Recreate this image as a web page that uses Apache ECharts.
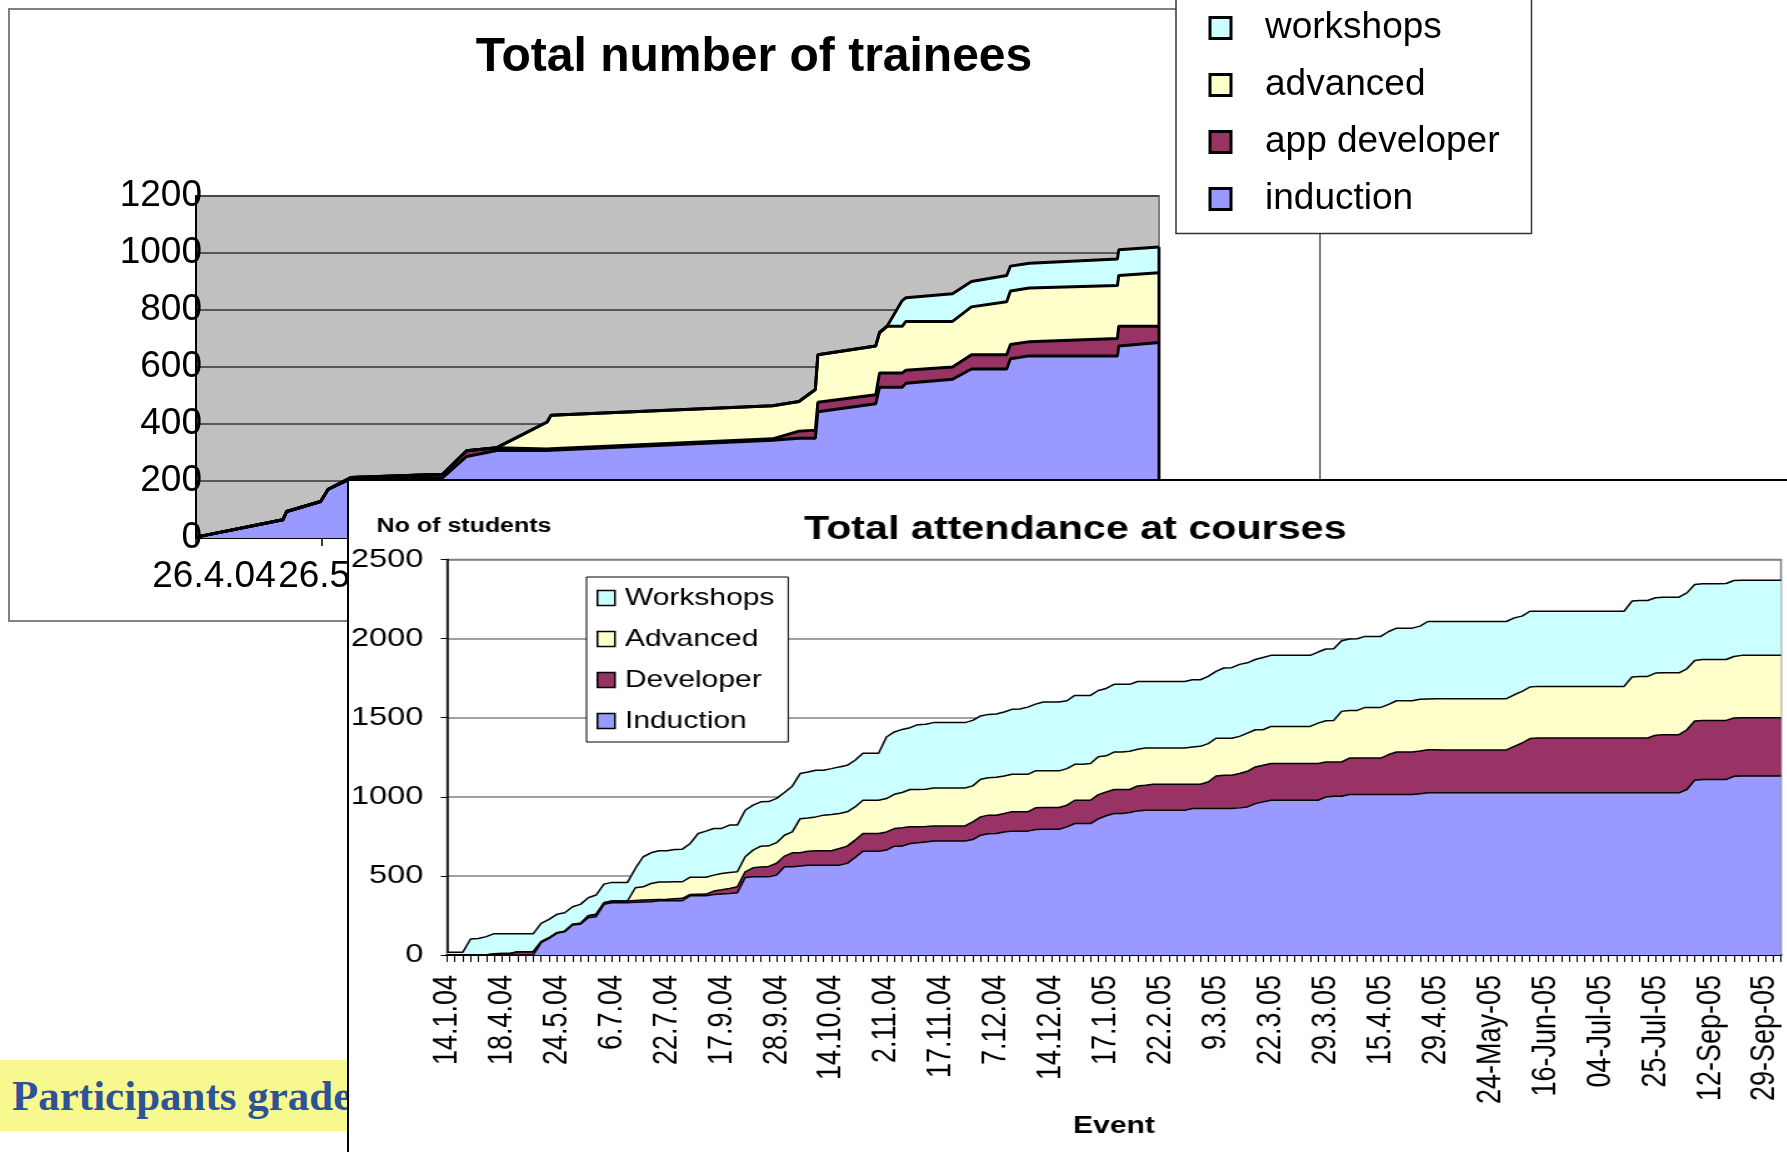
<!DOCTYPE html>
<html>
<head>
<meta charset="utf-8">
<script src="https://cdn.jsdelivr.net/npm/echarts@6/dist/echarts.min.js"></script>
<style>
html,body{margin:0;padding:0;width:1787px;height:1152px;overflow:hidden;background:#fff;}
#topFrame{position:absolute;left:8px;top:8px;width:1313px;height:614px;box-sizing:border-box;border:2px solid #808080;background:#fff;}
#topChart{position:absolute;left:0;top:0;width:1787px;height:640px;}
#banner{position:absolute;left:0;top:1060px;width:380px;height:71px;background:#F8F890;font:bold 43px "Liberation Serif","Times New Roman",serif;color:#2E5395;line-height:71px;padding-left:12px;box-sizing:border-box;white-space:nowrap;overflow:hidden;}
#bottomFrame{position:absolute;left:347px;top:479px;width:1440px;height:673px;box-sizing:border-box;border-left:2px solid #000;border-top:2px solid #000;background:#fff;}
#bottomChart{position:absolute;left:349px;top:481px;width:1150px;height:671px;transform:scaleX(1.25);transform-origin:0 0;}
</style>
</head>
<body>
<div id="topFrame"></div>
<div id="topChart"></div>
<div id="banner">Participants grade</div>
<div id="bottomFrame"></div>
<div id="bottomChart"></div>
<script>
// ---------- Top chart: Total number of trainees ----------
const traineeTickLabels = ['26.4.04','26.5.04','26.6.04','26.7.04','26.8.04','26.9.04','26.10.04','26.11.04'];
// x position in months after 26.4.04
const traineeX = [0, 0.69, 0.72, 0.99, 1.05, 1.23, 1.96, 2.15, 2.39, 2.79, 2.82, 4.58, 4.79, 4.92, 4.94, 5.40, 5.43, 5.49, 5.61, 5.64, 6.01, 6.16, 6.44, 6.47, 6.62, 7.32, 7.33, 7.65];
const traineeInduction = [3, 64, 93, 128, 171, 207, 212, 286, 307, 307, 308, 343, 350, 350, 443, 471, 529, 529, 529, 543, 557, 593, 593, 629, 639, 639, 674, 686];
const traineeAppDev = [0, 0, 0, 0, 0, 5, 12, 20, 10, 5, 5, 5, 25, 28, 33, 32, 50, 50, 50, 46, 43, 50, 50, 50, 50, 61, 69, 57];
const traineeAdvanced = [0, 0, 0, 0, 0, 0, 0, 0, 0, 95, 118, 116, 104, 143, 167, 171, 142, 164, 164, 171, 160, 168, 186, 188, 188, 186, 178, 188];
const traineeWorkshops = [0, 0, 0, 0, 0, 0, 0, 0, 0, 0, 0, 0, 0, 0, 0, 0, 0, 0, 90, 83, 97, 89, 92, 87, 87, 93, 90, 90];

// ---------- Bottom chart: Total attendance at courses ----------
const courseTickLabels = ['14.1.04','18.4.04','24.5.04','6.7.04','22.7.04','17.9.04','28.9.04','14.10.04','2.11.04','17.11.04','7.12.04','14.12.04','17.1.05','22.2.05','9.3.05','22.3.05','29.3.05','15.4.05','29.4.05','24-May-05','16-Jun-05','04-Jul-05','25-Jul-05','12-Sep-05','29-Sep-05'];
const eventsPerTickLabel = 7;
const inductionStudents = [0,0,0,0,0,0,0,0,0,0,
 0,0,78,105,137,147,189,194,236,242,
 320,330,330,330,333,335,337,343,343,343,
 343,375,375,375,383,386,389,393,490,494,
 494,494,505,558,558,562,568,568,568,568,
 568,579,616,656,656,656,663,688,688,705,
 709,715,720,720,720,720,720,730,757,766,
 768,778,783,783,783,793,795,795,795,810,
 831,831,831,860,880,894,894,901,911,915,
 915,915,915,915,915,926,926,926,926,926,
 926,930,936,957,968,978,978,978,978,978,
 978,978,999,1004,1004,1014,1014,1014,1014,1014,
 1014,1014,1014,1014,1020,1025,1025,1025,1025,1025,
 1025,1025,1025,1025,1025,1025,1025,1025,1025,1025,
 1025,1025,1025,1025,1025,1025,1025,1025,1025,1025,
 1025,1025,1025,1025,1025,1025,1025,1025,1046,1105,
 1109,1109,1109,1109,1130,1132,1132,1132,1132,1132,
 1132];
const developerStudents = [0,0,0,0,0,0,8,10,10,21,
 21,21,6,4,4,4,5,6,12,15,
 10,11,11,11,12,12,12,8,9,12,
 15,8,9,10,21,26,32,38,36,57,
 62,66,75,67,88,84,88,91,91,91,
 105,109,110,112,112,112,115,111,116,105,
 101,97,96,96,96,96,96,112,116,118,
 116,116,122,122,122,137,137,137,137,137,
 147,147,147,154,150,152,152,145,158,158,
 164,164,164,164,164,153,153,168,206,210,
 210,217,225,232,231,232,232,232,232,232,
 232,232,221,216,216,231,231,231,231,231,
 253,269,269,269,270,273,273,271,271,271,
 271,271,271,271,271,271,294,315,343,347,
 347,347,347,347,347,347,347,347,347,347,
 347,347,347,347,364,368,368,368,378,374,
 374,374,374,374,368,368,368,368,368,368,
 368];
const advancedStudents = [0,0,0,0,0,0,0,0,0,0,
 0,0,0,0,0,0,0,0,0,0,
 0,0,0,0,80,84,103,110,110,108,
 105,109,108,107,101,103,101,95,95,112,
 132,130,130,132,132,216,210,214,225,229,
 221,217,210,210,210,210,211,217,223,236,
 236,236,240,240,240,240,240,227,238,237,
 239,238,237,237,237,234,232,232,232,231,
 227,227,232,239,229,237,237,242,231,236,
 230,230,230,230,230,236,240,242,238,234,
 234,235,242,235,225,235,235,235,235,235,
 235,256,261,263,320,301,301,320,320,320,
 317,324,324,324,326,320,322,324,324,324,
 324,324,324,324,324,324,326,326,326,326,
 326,326,326,326,326,326,326,326,326,326,
 326,385,389,389,393,391,391,391,385,383,
 385,385,385,385,389,394,394,394,394,394,
 394];
const workshopStudents = [17,17,17,101,104,116,127,125,125,114,
 114,114,116,116,116,116,111,120,114,122,
 118,118,118,118,122,190,194,198,197,204,
 206,213,276,291,295,285,299,295,294,284,
 280,280,280,270,289,285,291,295,284,290,
 295,294,295,297,297,297,389,394,399,391,
 410,410,413,413,413,413,413,414,400,400,
 400,404,411,413,425,422,435,435,435,429,
 436,436,431,419,426,428,428,423,429,420,
 420,420,420,420,420,425,421,425,423,444,
 446,455,444,444,457,449,449,449,449,449,
 449,449,453,453,446,451,453,449,449,449,
 461,459,459,459,463,490,488,488,488,488,
 488,488,488,488,488,488,486,476,479,475,
 475,475,475,475,475,475,475,475,475,475,
 475,480,480,480,476,478,478,478,480,480,
 478,478,478,480,480,475,475,475,475,475,
 475];

const FONT = '"Liberation Sans", Arial, sans-serif';
const COL = {induction:'#9999FF', developer:'#993366', advanced:'#FFFFCC', workshops:'#CCFFFF'};

function areaS(name, data, color) {
  return {type:'line', name, stack:'fill', data, symbol:'none', showSymbol:false, silent:true,
    lineStyle:{width:0, opacity:0}, areaStyle:{color, opacity:1}, itemStyle:{color}, z:2};
}
function edgeS(data, w) {
  return {type:'line', stack:'edge', data, symbol:'none', showSymbol:false, silent:true,
    lineStyle:{color:'#000', width:w}, itemStyle:{color:'#000'}, z:3};
}
function legendItem(name, color, bw) {
  return {name, itemStyle:{color, borderColor:'#000', borderWidth:bw}};
}

// ---- top chart (cumulative layers drawn back-to-front) ----
const topChart = echarts.init(document.getElementById('topChart'));
const cum = (...arrs) => arrs[0].map((_, i) => arrs.reduce((s, a) => s + a[i], 0));
const pairs = arr => arr.map((v, i) => [traineeX[i], v]);
const cInd = cum(traineeInduction);
const cDev = cum(traineeInduction, traineeAppDev);
const cAdv = cum(traineeInduction, traineeAppDev, traineeAdvanced);
const cWs = cum(traineeInduction, traineeAppDev, traineeAdvanced, traineeWorkshops);
const lastIdx = traineeX.length - 1;
const lastX = traineeX[lastIdx];

function layer(name, vals, color, z) {
  return {type:'line', name, data:pairs(vals), symbol:'none', showSymbol:false, silent:true,
    lineStyle:{width:0, opacity:0}, areaStyle:{color, opacity:1, origin:'start'}, itemStyle:{color}, z};
}
function outline(vals) {
  return {type:'line', data:pairs(vals), symbol:'none', showSymbol:false, silent:true,
    lineStyle:{color:'#000', width:3}, itemStyle:{color:'#000'}, z:10};
}

topChart.setOption({
  animation:false,
  textStyle:{fontFamily:FONT},
  grid:{left:196, top:196, width:963, height:342, show:true, backgroundColor:'#C0C0C0',
        borderColor:'#808080', borderWidth:2, outerBoundsMode:'none'},
  xAxis:{type:'value', min:0, max:lastX, interval:1,
    axisLine:{show:true, lineStyle:{color:'#000', width:2}},
    axisTick:{show:true, length:8, lineStyle:{color:'#000', width:1.5}},
    splitLine:{show:false},
    axisLabel:{fontSize:37, color:'#000', fontFamily:FONT, margin:20, showMaxLabel:false,
      padding:[0,0,0,36], formatter: v => (traineeTickLabels[v] !== undefined ? traineeTickLabels[v] : '')}},
  yAxis:{type:'value', min:0, max:1200, interval:200,
    axisLine:{show:true, lineStyle:{color:'#000', width:2}},
    axisTick:{show:false},
    splitLine:{show:true, lineStyle:{color:'#333', width:1.5}},
    axisLabel:{fontSize:37, color:'#000', fontFamily:FONT, margin:-6, formatter: v => String(v)}},
  legend:{orient:'vertical', left:1176, top:-4.5, padding:[14,32,16,32.5], itemGap:20,
    itemWidth:21, itemHeight:21, icon:'rect', selectedMode:false,
    backgroundColor:'#fff', borderColor:'#333', borderWidth:1.5,
    textStyle:{fontSize:37, color:'#000', fontFamily:FONT, padding:[0,0,0,29]},
    data:[legendItem('workshops', COL.workshops, 3), legendItem('advanced', COL.advanced, 3),
          legendItem('app developer', COL.developer, 3), legendItem('induction', COL.induction, 3)]},
  graphic:[{type:'text', x:754, y:58, silent:true,
    style:{text:'Total number of trainees', font:'bold 48px ' + FONT, fill:'#000',
      textAlign:'center', textVerticalAlign:'middle', align:'center', verticalAlign:'middle'}}],
  series:[
    layer('workshops', cWs, COL.workshops, 2),
    layer('advanced', cAdv, COL.advanced, 3),
    layer('app developer', cDev, COL.developer, 4),
    layer('induction', cInd, COL.induction, 5),
    outline(cInd), outline(cDev), outline(cAdv), outline(cWs),
    {type:'line', data:[[lastX, 0], [lastX, cWs[lastIdx]]], symbol:'none', silent:true,
     lineStyle:{color:'#000', width:3}, z:11}
  ]
});

// ---- bottom chart ----
const bottomChart = echarts.init(document.getElementById('bottomChart'));
const eventIds = inductionStudents.map((_, i) => 'E' + (i + 1));

bottomChart.setOption({
  animation:false,
  textStyle:{fontFamily:FONT},
  grid:{left:78.4, right:4.4, top:78.5, bottom:197, show:true, backgroundColor:'#fff',
        borderColor:'#808080', borderWidth:1.5, outerBoundsMode:'none'},
  xAxis:{type:'category', data:eventIds, boundaryGap:false,
    axisLine:{show:true, lineStyle:{color:'#000', width:2}},
    axisTick:{show:true, interval:0, length:7, lineStyle:{color:'#000', width:1}},
    splitLine:{show:false},
    axisLabel:{interval:eventsPerTickLabel - 1, rotate:90, margin:20, fontSize:27, color:'#000', fontFamily:FONT,
      formatter:(v, idx) => (idx % eventsPerTickLabel === 0 && courseTickLabels[idx / eventsPerTickLabel]) || ''}},
  yAxis:{type:'value', min:0, max:2500, interval:500,
    axisLine:{show:true, lineStyle:{color:'#000', width:1.5}},
    axisTick:{show:true, length:5, lineStyle:{color:'#000', width:1}},
    splitLine:{show:true, lineStyle:{color:'#808080', width:1.5}},
    axisLabel:{fontSize:26, color:'#000', fontFamily:FONT, margin:19, formatter: v => String(v)}},
  legend:{orient:'vertical', left:190, top:96, padding:[9,11,9,8], itemGap:17,
    itemWidth:14, itemHeight:15, icon:'rect', selectedMode:false,
    backgroundColor:'#fff', borderColor:'#000', borderWidth:1,
    textStyle:{fontSize:24, color:'#000', fontFamily:FONT, padding:[0,0,0,3]},
    data:[legendItem('Workshops', COL.workshops, 1.5), legendItem('Advanced', COL.advanced, 1.5),
          legendItem('Developer', COL.developer, 1.5), legendItem('Induction', COL.induction, 1.5)]},
  graphic:[
    {type:'text', x:581, y:49, silent:true,
     style:{text:'Total attendance at courses', font:'bold 33px ' + FONT, fill:'#000',
       textAlign:'center', textVerticalAlign:'middle', align:'center', verticalAlign:'middle'}},
    {type:'text', x:22, y:45, silent:true,
     style:{text:'No of students', font:'bold 20px ' + FONT, fill:'#000',
       textAlign:'left', textVerticalAlign:'middle', align:'left', verticalAlign:'middle'}},
    {type:'text', x:612, y:645, silent:true,
     style:{text:'Event', font:'bold 24px ' + FONT, fill:'#000',
       textAlign:'center', textVerticalAlign:'middle', align:'center', verticalAlign:'middle'}}
  ],
  series:[
    areaS('Induction', inductionStudents, COL.induction),
    areaS('Developer', developerStudents, COL.developer),
    areaS('Advanced', advancedStudents, COL.advanced),
    areaS('Workshops', workshopStudents, COL.workshops),
    edgeS(inductionStudents, 1.5),
    edgeS(developerStudents, 1.5),
    edgeS(advancedStudents, 1.5),
    edgeS(workshopStudents, 1.5)
  ]
});
</script>
</body>
</html>
